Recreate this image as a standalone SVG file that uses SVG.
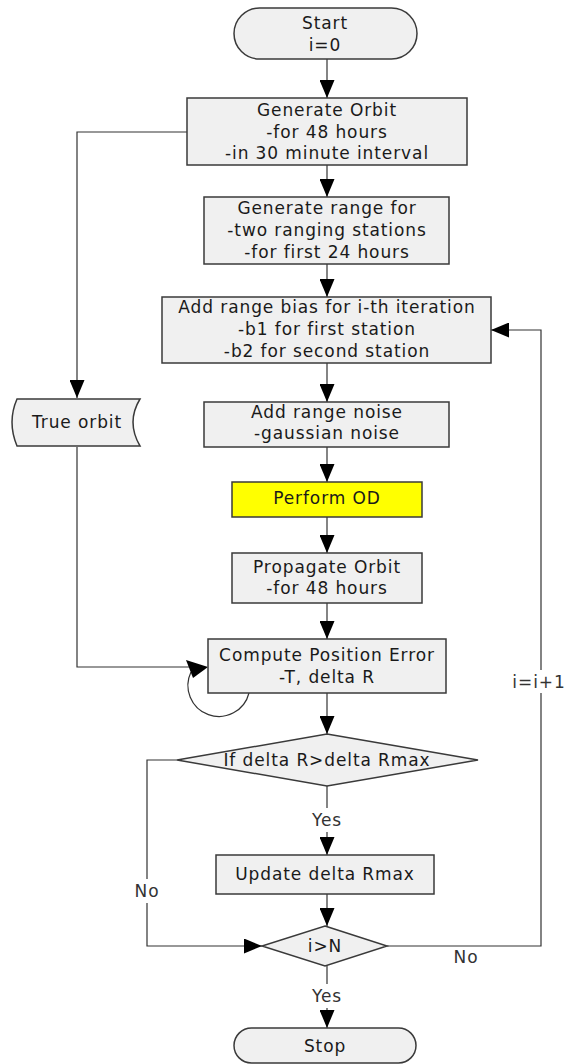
<svg xmlns="http://www.w3.org/2000/svg" width="571" height="1064" viewBox="0 0 571 1064">
<style>
.box{fill:#f0f0f0;stroke:#3a3a3a;stroke-width:1.5}
.od{fill:#ffff00;stroke:#3a3a3a;stroke-width:1.5}
.t{font-family:"DejaVu Sans","Liberation Sans",sans-serif;font-size:17px;letter-spacing:0.9px;fill:#1a1a1a;text-anchor:middle;dominant-baseline:central}
.lbl{font-family:"DejaVu Sans","Liberation Sans",sans-serif;font-size:17px;letter-spacing:0.9px;fill:#333;text-anchor:middle;dominant-baseline:central}
.c{fill:none;stroke:#333;stroke-width:1.2}
.bg{fill:#fff}
</style>
<defs>
<marker id="ah" viewBox="0 0 18 15" refX="18" refY="7.5" markerWidth="18" markerHeight="15" markerUnits="userSpaceOnUse" orient="auto">
<polygon points="0,0 18,7.5 0,15" fill="#000"/>
</marker>
</defs>
<g id="connectors">
<line class="c" x1="327" y1="59" x2="327" y2="98" marker-end="url(#ah)"/>
<line class="c" x1="327" y1="165" x2="327" y2="197" marker-end="url(#ah)"/>
<line class="c" x1="327" y1="264" x2="327" y2="297" marker-end="url(#ah)"/>
<line class="c" x1="327" y1="363" x2="327" y2="402" marker-end="url(#ah)"/>
<line class="c" x1="327" y1="447" x2="327" y2="482" marker-end="url(#ah)"/>
<line class="c" x1="327" y1="517" x2="327" y2="553" marker-end="url(#ah)"/>
<line class="c" x1="327" y1="603" x2="327" y2="639" marker-end="url(#ah)"/>
<line class="c" x1="327" y1="693" x2="327" y2="734" marker-end="url(#ah)"/>
<line class="c" x1="327" y1="786" x2="327" y2="855" marker-end="url(#ah)"/>
<line class="c" x1="327" y1="894" x2="327" y2="926" marker-end="url(#ah)"/>
<line class="c" x1="327" y1="966" x2="327" y2="1028" marker-end="url(#ah)"/>
<polyline class="c" points="187,132 77,132 77,398" marker-end="url(#ah)"/>
<polyline class="c" points="77,447 77,667 192,667"/>
<path class="c" d="M249,693 A31,31 0 1 1 191,672"/>
<polygon points="208,667 186,660 193,678" fill="#000"/>
<polyline class="c" points="177,760 147,760 147,946 262,946" marker-end="url(#ah)"/>
<polyline class="c" points="387,946 541,946 541,330 491,330" marker-end="url(#ah)"/>
<rect class="bg" x="310" y="808" width="34" height="24"/>
<text class="lbl" x="327" y="820">Yes</text>
<rect class="bg" x="310" y="984" width="34" height="24"/>
<text class="lbl" x="327" y="996">Yes</text>
<rect class="bg" x="134" y="879" width="27" height="24"/>
<text class="lbl" x="147" y="891">No</text>
<text class="lbl" x="466" y="957">No</text>
<rect class="bg" x="515" y="670" width="48" height="23"/>
<text class="lbl" x="539" y="682">i=i+1</text>
</g>
<g id="start">
<rect class="box" x="234" y="8" width="183" height="51" rx="25.5"/>
<text class="t" x="325" y="23">Start</text>
<text class="t" x="325" y="45">i=0</text>
</g>
<g id="generate-orbit">
<rect class="box" x="187" y="98" width="280" height="67"/>
<text class="t" x="327" y="110">Generate Orbit</text>
<text class="t" x="327" y="132">-for 48 hours</text>
<text class="t" x="327" y="153">-in 30 minute interval</text>
</g>
<g id="generate-range">
<rect class="box" x="204" y="197" width="245" height="67"/>
<text class="t" x="327" y="208">Generate range for</text>
<text class="t" x="327" y="230">-two ranging stations</text>
<text class="t" x="327" y="252">-for first 24 hours</text>
</g>
<g id="add-bias">
<rect class="box" x="162" y="297" width="329" height="66"/>
<text class="t" x="327" y="307">Add range bias for i-th iteration</text>
<text class="t" x="327" y="329">-b1 for first station</text>
<text class="t" x="327" y="351">-b2 for second station</text>
</g>
<g id="true-orbit">
<path class="box" d="M17,399 L140,399 Q126,422 140,446 L17,446 Q7,422 17,399 Z"/>
<text class="t" x="77" y="422">True orbit</text>
</g>
<g id="add-noise">
<rect class="box" x="204" y="402" width="245" height="45"/>
<text class="t" x="327" y="412">Add range noise</text>
<text class="t" x="327" y="433">-gaussian noise</text>
</g>
<g id="perform-od">
<rect class="od" x="232" y="482" width="190" height="35"/>
<text class="t" x="327" y="498">Perform OD</text>
</g>
<g id="propagate">
<rect class="box" x="232" y="553" width="190" height="50"/>
<text class="t" x="327" y="567">Propagate Orbit</text>
<text class="t" x="327" y="588">-for 48 hours</text>
</g>
<g id="compute-error">
<rect class="box" x="208" y="639" width="238" height="54"/>
<text class="t" x="327" y="655">Compute Position Error</text>
<text class="t" x="327" y="677">-T, delta R</text>
</g>
<g id="decision-rmax">
<polygon class="box" points="327,734 478,760 327,786 177,760"/>
<text class="t" x="327" y="760">If delta R&gt;delta Rmax</text>
</g>
<g id="update-rmax">
<rect class="box" x="216" y="855" width="218" height="39"/>
<text class="t" x="325" y="874">Update delta Rmax</text>
</g>
<g id="decision-n">
<polygon class="box" points="325,926 387,946 325,966 262,946"/>
<text class="t" x="325" y="946">i&gt;N</text>
</g>
<g id="stop">
<rect class="box" x="234" y="1028" width="182" height="35" rx="17.5"/>
<text class="t" x="325" y="1046">Stop</text>
</g>
</svg>
